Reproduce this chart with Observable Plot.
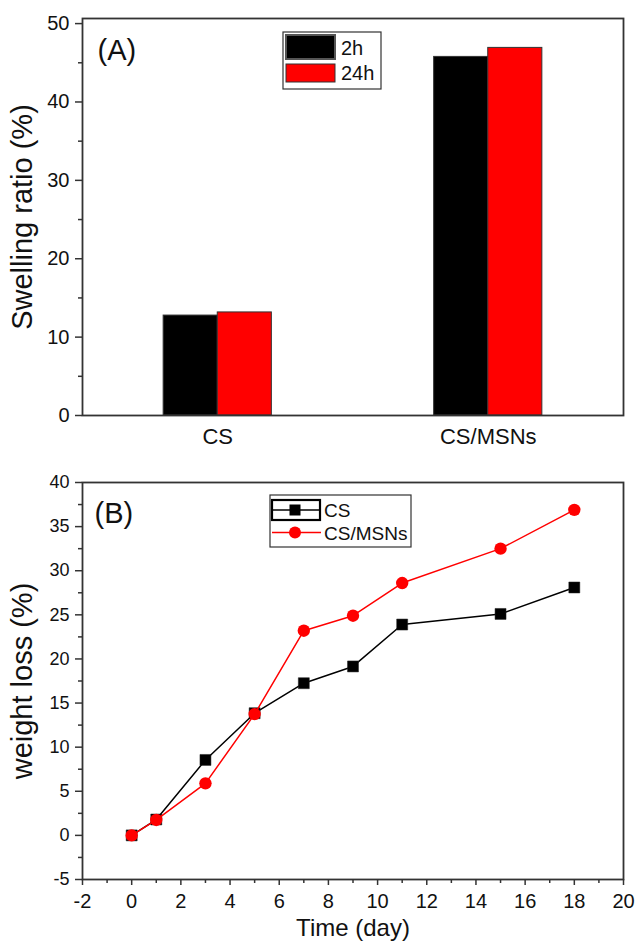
<!DOCTYPE html>
<html>
<head>
<meta charset="utf-8">
<script src="https://cdn.jsdelivr.net/npm/d3@7"></script>
<script src="https://cdn.jsdelivr.net/npm/@observablehq/plot@0.6"></script>
<style>
  body { margin: 0; background: #fff; }
  #chart { width: 637px; }
  #chart svg { display: block; }
</style>
</head>
<body>
<div id="chart"></div>
<script>
// ---------- Panel A data ----------
const categories = ["CS", "CS/MSNs"];
const series = ["2h", "24h"];
const swell2h = [12.75, 45.75];
const swell24h = [13.15, 46.9];
const seriesColors = ["#000000", "#ff0000"];
const yTicksA = [0, 10, 20, 30, 40, 50];
const yMinorA = [5, 15, 25, 35, 45];

// ---------- Panel B data ----------
const days = [0, 1, 3, 5, 7, 9, 11, 15, 18];
const lossCS = [0, 1.8, 8.55, 13.85, 17.25, 19.15, 23.9, 25.1, 28.1];
const lossCSMSNs = [0, 1.75, 5.9, 13.75, 23.2, 24.9, 28.6, 32.5, 36.9];
const lineSeries = ["CS", "CS/MSNs"];
const lineColors = ["#000000", "#ff0000"];
const yTicksB = [-5, 0, 5, 10, 15, 20, 25, 30, 35, 40];
const yMinorB = [-2.5, 2.5, 7.5, 12.5, 17.5, 22.5, 27.5, 32.5, 37.5];
const xTicksB = [-2, 0, 2, 4, 6, 8, 10, 12, 14, 16, 18, 20];
const xMinorB = [-1, 1, 3, 5, 7, 9, 11, 13, 15, 17, 19];

const FONT = "'Liberation Sans', Arial, Helvetica, sans-serif";
const AX = "#333";
const BAR_W = 0.2;
const noLabel = () => "";

const swellValues = [swell2h, swell24h];
const barRows = [];
categories.forEach((c, ci) => {
  series.forEach((s, si) => {
    barRows.push({
      category: c, series: s, value: swellValues[si][ci],
      x1: ci + 1 + (si - 1) * BAR_W, x2: ci + 1 + si * BAR_W
    });
  });
});

const plotA = Plot.plot({
  width: 637, height: 470,
  marginTop: 18, marginBottom: 55, marginLeft: 82, marginRight: 14,
  style: { fontFamily: FONT, fontSize: "20px", color: "#111", background: "#fff" },
  x: { type: "linear", domain: [0.5, 2.5] },
  y: { domain: [0, 50.65] },
  color: { domain: series, range: seriesColors },
  marks: [
    Plot.rectY(barRows, { x1: "x1", x2: "x2", y1: 0, y2: "value", fill: "series", stroke: "#333", strokeWidth: 1 }),
    Plot.frame({ stroke: AX, strokeWidth: 1.8 }),
    Plot.axisY(yTicksA, { tickSize: 7, tickPadding: 6, fontSize: 20, stroke: AX, strokeWidth: 1.5, label: null, tickFormat: d => String(d) }),
    Plot.axisY(yMinorA, { tickSize: 4, stroke: AX, strokeWidth: 1.5, label: null, tickFormat: noLabel }),
    Plot.axisX([1, 2], { tickSize: 0, tickPadding: 13, fontSize: 22, label: null, tickFormat: i => categories[i - 1] }),
    Plot.text(["Swelling ratio (%)"], { text: d => d, frameAnchor: "left", dx: -60, rotate: -90, fontSize: 29, textAnchor: "middle", lineAnchor: "middle" }),
    Plot.text(["(A)"], { text: d => d, frameAnchor: "top-left", dx: 15, dy: 32, fontSize: 29, textAnchor: "start", lineAnchor: "middle" })
  ]
});

const rowsB = [];
[lossCS, lossCSMSNs].forEach((vals, si) => {
  days.forEach((d, i) => rowsB.push({ series: lineSeries[si], day: d, loss: vals[i] }));
});
const rowsCS = rowsB.filter(r => r.series === lineSeries[0]);
const rowsMSN = rowsB.filter(r => r.series === lineSeries[1]);

const plotB = Plot.plot({
  width: 637, height: 472,
  marginTop: 12, marginBottom: 63, marginLeft: 82, marginRight: 14,
  style: { fontFamily: FONT, fontSize: "18px", color: "#111", background: "#fff" },
  x: { domain: [-2, 20] },
  y: { domain: [-5, 40] },
  marks: [
    Plot.frame({ stroke: AX, strokeWidth: 1.8 }),
    Plot.axisY(yTicksB, { tickSize: 7, tickPadding: 6, fontSize: 18, stroke: AX, strokeWidth: 1.5, label: null, tickFormat: d => String(d) }),
    Plot.axisY(yMinorB, { tickSize: 4, stroke: AX, strokeWidth: 1.5, label: null, tickFormat: noLabel }),
    Plot.axisX(xTicksB, { tickSize: 6, tickPadding: 8, fontSize: 20, stroke: AX, strokeWidth: 1.5, label: null, tickFormat: d => String(d) }),
    Plot.axisX(xMinorB, { tickSize: 4, stroke: AX, strokeWidth: 1.5, label: null, tickFormat: noLabel }),
    Plot.line(rowsCS, { x: "day", y: "loss", stroke: lineColors[0], strokeWidth: 1.5 }),
    Plot.dot(rowsCS, { x: "day", y: "loss", symbol: "square", r: 6.2, fill: lineColors[0], stroke: "#222", strokeWidth: 0.5 }),
    Plot.line(rowsMSN, { x: "day", y: "loss", stroke: lineColors[1], strokeWidth: 1.5 }),
    Plot.dot(rowsMSN, { x: "day", y: "loss", symbol: "circle", r: 6.2, fill: lineColors[1] }),
    Plot.text(["weight loss (%)"], { text: d => d, frameAnchor: "left", dx: -60, rotate: -90, fontSize: 29, textAnchor: "middle", lineAnchor: "middle" }),
    Plot.text(["Time (day)"], { text: d => d, frameAnchor: "bottom", dy: 49, fontSize: 24, textAnchor: "middle", lineAnchor: "middle" }),
    Plot.text(["(B)"], { text: d => d, frameAnchor: "top-left", dx: 12, dy: 31, fontSize: 29, textAnchor: "start", lineAnchor: "middle" })
  ]
});

// ---------- Legends (overlay, pixel layout) ----------
const gA = d3.select(plotA).append("g").attr("font-family", FONT).attr("font-size", 20).attr("text-anchor", "start");
gA.append("rect").attr("x", 283).attr("y", 32).attr("width", 98).attr("height", 57)
  .attr("fill", "#fff").attr("stroke", "#333").attr("stroke-width", 1.2);
series.forEach((s, i) => {
  const y0 = 35 + i * 29;
  gA.append("rect").attr("x", 286).attr("y", y0).attr("width", 49).attr("height", i === 0 ? 24 : 18)
    .attr("fill", seriesColors[i]).attr("stroke", i === 0 ? "#555" : "#333").attr("stroke-width", i === 0 ? 2 : 1);
  gA.append("text").attr("x", 341).attr("y", i === 0 ? 55 : 80).attr("fill", "#111").text(s);
});

const gB = d3.select(plotB).append("g").attr("font-family", FONT).attr("font-size", 19).attr("text-anchor", "start");
gB.append("rect").attr("x", 270).attr("y", 25).attr("width", 141).attr("height", 52)
  .attr("fill", "#fff").attr("stroke", "#333").attr("stroke-width", 1.2);
lineSeries.forEach((s, i) => {
  const y = 40 + i * 22.5;
  gB.append("line").attr("x1", 272).attr("x2", 321).attr("y1", y).attr("y2", y)
    .attr("stroke", lineColors[i]).attr("stroke-width", 1.5);
  if (i === 0) {
    gB.append("rect").attr("x", 289.5).attr("y", y - 5.5).attr("width", 11).attr("height", 11).attr("fill", lineColors[i]);
    gB.append("rect").attr("x", 272).attr("y", y - 10).attr("width", 48).attr("height", 20)
      .attr("fill", "none").attr("stroke", "#000").attr("stroke-width", 2.2);
  } else {
    gB.append("circle").attr("cx", 295).attr("cy", y).attr("r", 6).attr("fill", lineColors[i]);
  }
  gB.append("text").attr("x", 324).attr("y", y + 7).attr("fill", "#111").text(s);
});

const chart = document.getElementById("chart");
chart.appendChild(plotA);
chart.appendChild(plotB);
</script>
</body>
</html>
